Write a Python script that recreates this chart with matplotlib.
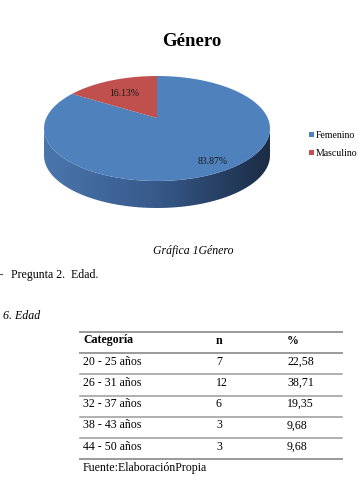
import numpy as np
import matplotlib.pyplot as plt
from matplotlib.patches import Polygon, Rectangle
from matplotlib.colors import LinearSegmentedColormap

# pie data
generos = ["Femenino", "Masculino"]
porcentajes = [83.87, 16.13]
colores = ["#4f81bd", "#c0504d"]

# table data
categorias = ["20 - 25 años", "26 - 31 años", "32 - 37 años", "38 - 43 años", "44 - 50 años"]
n_vals = [7, 12, 6, 3, 3]
pct_vals = ["22,58", "38,71", "19,35", "9,68", "9,68"]

W, H = 364, 489
fig = plt.figure(figsize=(W / 100, H / 100), dpi=100)
ax = fig.add_axes([0, 0, 1, 1])

times = "Liberation Serif"

# ---- pie with a bit of perspective ----
cx, cy, rx, s, k, depth = 157, 119, 110.7, 50.4, 0.2, 27

def proj(t):
    X, Z = np.cos(t), np.sin(t)
    return cx + rx * X / (1 + k * Z), cy - s * Z / (1 + k * Z)

# side of the pie (front part of the outline, shifted down)
tt = np.linspace(-np.pi, np.pi, 2000)
ox, oy = proj(tt)
il, ir = np.argmin(ox), np.argmax(ox)
ta, tb = tt[il], tt[ir]
tf = np.linspace(ta, tb, 400)
fx, fy = proj(tf)
side = np.concatenate([np.c_[fx, fy], np.c_[fx[::-1], fy[::-1] + depth]])
side_patch = Polygon(side, closed=True, facecolor="none", edgecolor="none")
ax.add_patch(side_patch)
grad = np.linspace(0, 1, 256).reshape(1, -1)
cmap = LinearSegmentedColormap.from_list("side", ["#4a76ad", "#37598a", "#1b2c45"])
im = ax.imshow(grad, cmap=cmap, extent=[fx.min(), fx.max(), fy.max() + depth, fy.min()],
               aspect="auto", zorder=1)
im.set_clip_path(side_patch)

# top face: Masculino counterclockwise from 12 o'clock, Femenino the rest
start = np.pi / 2
ang_m = np.deg2rad(porcentajes[1] / 100 * 360)
bounds = [(start + ang_m, start + 2 * np.pi), (start, start + ang_m)]
for (a0, a1), c in zip(bounds, colores):
    t = np.linspace(a0, a1, 300)
    px, py = proj(t)
    poly = np.vstack([[cx, cy], np.c_[px, py]])
    ax.add_patch(Polygon(poly, closed=True, facecolor=c, edgecolor="none", zorder=2))

ax.text(124, 93, "16.13%", fontsize=7, family=times, ha="center", va="center", color="#1a1a1a", zorder=3)
ax.text(213, 162, "83.87%", fontsize=7, family=times, ha="center", va="center", color="#1a1a1a", zorder=3)

ax.text(192, 41, "Género", fontsize=13.5, family=times, weight="bold", ha="center", va="center")

# legend
for i, (g, c) in enumerate(zip(generos, colores)):
    y = 135 + 18 * i
    ax.add_patch(Rectangle((309, y - 2.5), 5, 5, facecolor=c, edgecolor="none"))
    ax.text(315.5, y, g, fontsize=7, family=times, va="center", ha="left")

# ---- document text ----
ax.text(193, 251, "Gráfica 1Género", fontsize=8.5, family=times, style="italic", ha="center", va="center")
ax.plot([0, 2], [275, 275], color="#555555", lw=0.8)
ax.text(11, 275, "Pregunta 2.  Edad.", fontsize=8.6, family=times, ha="left", va="center")
ax.text(3, 316, "6. Edad", fontsize=8.6, family=times, style="italic", ha="left", va="center")

# ---- table ----
x0, x1 = 80, 342
ytop, rowh = 333, 21.2
cols = [83, 216, 287]
for i in range(len(categorias) + 2):
    y = ytop + i * rowh
    ax.plot([x0, x1], [y, y], color="#9a9a9a", lw=1.4 if i in (0, 1, 6) else 1.1)
for x, lab in zip(cols, ["Categoría", "n", "%"]):
    ax.text(x, ytop + 7.5, lab, fontsize=8.6, family=times, weight="bold", va="center")
for i, (c, n, p) in enumerate(zip(categorias, n_vals, pct_vals)):
    y = ytop + (i + 1) * rowh + 7.5
    ax.text(cols[0], y, c, fontsize=8.6, family=times, va="center")
    ax.text(cols[1], y, str(n), fontsize=8.6, family=times, va="center")
    ax.text(cols[2], y, p, fontsize=8.6, family=times, va="center")
ax.text(cols[0], 468, "Fuente:ElaboraciónPropia", fontsize=8.6, family=times, va="center")

ax.set_xlim(0, W)
ax.set_ylim(H, 0)
ax.axis("off")
fig.savefig("out.png", dpi=100)
